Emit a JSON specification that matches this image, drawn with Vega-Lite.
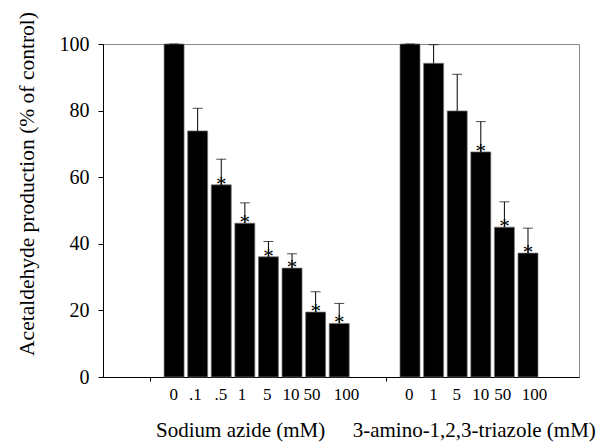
{
  "$schema": "https://vega.github.io/schema/vega-lite/v6.json",
  "width": 476,
  "height": 333,
  "autosize": "none",
  "padding": {"left": 103, "top": 44, "right": 21, "bottom": 66},
  "background": "white",
  "config": {
    "view": {"stroke": "#888888", "strokeWidth": 1},
    "font": "Liberation Serif",
    "axis": {"grid": false, "domainColor": "#000000", "tickColor": "#000000", "labelColor": "#000000", "titleColor": "#000000", "labelFont": "Liberation Serif", "titleFont": "Liberation Serif", "titleFontWeight": "normal"}
  },
  "data": {
    "values": [
      {"idx": 0, "conc": "0", "group": "Sodium azide", "value": 100, "top": 100, "star": ""},
      {"idx": 1, "conc": ".1", "group": "Sodium azide", "value": 73.9, "top": 80.7, "star": ""},
      {"idx": 2, "conc": ".5", "group": "Sodium azide", "value": 57.7, "top": 65.4, "star": "*"},
      {"idx": 3, "conc": "1", "group": "Sodium azide", "value": 46.2, "top": 52.3, "star": "*"},
      {"idx": 4, "conc": "5", "group": "Sodium azide", "value": 36.1, "top": 40.7, "star": "*"},
      {"idx": 5, "conc": "10", "group": "Sodium azide", "value": 32.7, "top": 37.0, "star": "*"},
      {"idx": 6, "conc": "50", "group": "Sodium azide", "value": 19.5, "top": 25.6, "star": "*"},
      {"idx": 7, "conc": "100", "group": "Sodium azide", "value": 16.1, "top": 22.1, "star": "*"},
      {"idx": 10, "conc": "0", "group": "3-amino-1,2,3-triazole", "value": 100, "top": 100, "star": ""},
      {"idx": 11, "conc": "1", "group": "3-amino-1,2,3-triazole", "value": 94.2, "top": 99.8, "star": ""},
      {"idx": 12, "conc": "5", "group": "3-amino-1,2,3-triazole", "value": 79.9, "top": 90.9, "star": ""},
      {"idx": 13, "conc": "10", "group": "3-amino-1,2,3-triazole", "value": 67.6, "top": 76.7, "star": "*"},
      {"idx": 14, "conc": "50", "group": "3-amino-1,2,3-triazole", "value": 45.0, "top": 52.6, "star": "*"},
      {"idx": 15, "conc": "100", "group": "3-amino-1,2,3-triazole", "value": 37.2, "top": 44.7, "star": "*"}
    ]
  },
  "resolve": {"axis": {"x": "independent"}},
  "layer": [
    {
      "mark": {"type": "bar", "width": 20, "color": "#000000", "stroke": "#777777", "strokeWidth": 0.7},
      "encoding": {
        "x": {"field": "idx", "type": "quantitative", "scale": {"domain": [-2.8, 16.95], "nice": false, "zero": false},
              "axis": {"orient": "bottom", "values": [-1, 9], "labels": false, "ticks": true, "tickSize": 4, "title": null, "domain": true}},
        "y": {"field": "value", "type": "quantitative", "scale": {"domain": [0, 100], "nice": false},
              "axis": {"values": [0, 20, 40, 60, 80, 100], "tickSize": 5, "labelPadding": 9, "labelFontSize": 20,
                       "title": "Acetaldehyde production (% of control)", "titleFontSize": 21.5, "titleX": -70, "titleY": 139.5, "titleBaseline": "alphabetic", "titleAngle": -90, "titleAlign": "center"}}
      }
    },
    {
      "mark": {"type": "rule", "color": "#000000", "strokeWidth": 1},
      "encoding": {
        "x": {"field": "idx", "type": "quantitative",
              "axis": {"orient": "bottom", "values": [-0.03, 0.88, 1.96, 2.86, 3.93, 4.93, 5.82, 7.29, 9.95, 10.97, 11.96, 12.98, 13.91, 15.26], "ticks": false, "domain": false, "labelFlush": false, "labelOverlap": false, "labelFontSize": 17, "labelPadding": 9,
                       "labelExpr": "['0','.1','.5','1','5','10','50','100','','','0','1','5','10','50','100'][round(datum.value)]", "title": null}},
        "y": {"field": "value", "type": "quantitative"},
        "y2": {"field": "top"}
      }
    },
    {
      "mark": {"type": "tick", "orient": "horizontal", "size": 10, "thickness": 1, "color": "#000000"},
      "encoding": {
        "x": {"field": "idx", "type": "quantitative", "axis": null},
        "y": {"field": "top", "type": "quantitative"}
      }
    },
    {
      "mark": {"type": "text", "fontSize": 21, "font": "Liberation Serif", "color": "#000000", "baseline": "alphabetic", "dy": 6},
      "encoding": {
        "x": {"field": "idx", "type": "quantitative",
              "axis": {"orient": "bottom", "values": [2.8, 12.7], "ticks": false, "domain": false, "labelFlush": false, "labelOverlap": false, "labelLimit": 0, "labelFontSize": 21, "labelPadding": 42,
                       "labelExpr": "datum.value < 8 ? 'Sodium azide (mM)' : '3-amino-1,2,3-triazole (mM)'", "title": null}},
        "y": {"field": "value", "type": "quantitative"},
        "text": {"field": "star"}
      }
    }
  ]
}
